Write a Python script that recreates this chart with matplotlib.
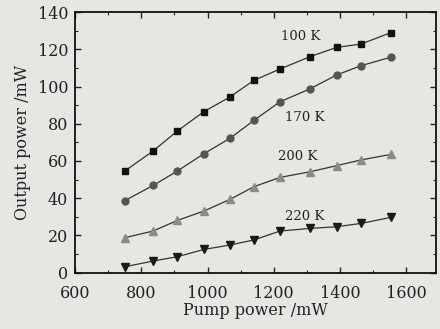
import matplotlib
matplotlib.use("Agg")
import matplotlib.pyplot as plt
from matplotlib.ticker import MultipleLocator

pump = [750, 836, 909, 989, 1068, 1140, 1219, 1309, 1390, 1464, 1553]
p100 = [54.6, 65.4, 76.1, 86.5, 94.4, 103.3, 109.4, 116.0, 121.0, 122.8, 128.9]
p170 = [38.7, 46.9, 54.6, 63.9, 72.2, 81.8, 91.8, 98.7, 106.2, 111.2, 115.7]
p200 = [18.8, 22.4, 28.1, 33.1, 39.4, 46.2, 51.2, 54.2, 57.5, 60.6, 63.5]
p220 = [3.2, 6.3, 8.6, 12.5, 14.9, 17.6, 22.4, 23.8, 24.7, 26.5, 29.7]
labels = ["100 K", "170 K", "200 K", "220 K"]
label_pos = [(1282, 126.6), (1294, 83.6), (1273, 62.6), (1294, 30.4)]

plt.rcParams['font.family'] = ['DejaVu Serif']
bg = '#e6e6e3'
fig = plt.figure(figsize=(4.4, 3.29), dpi=100, facecolor=bg)
ax = fig.add_axes([0.1705, 0.171, 0.8205, 0.7925], facecolor=bg)

series = [(p100, 's', '#111111', 4.6), (p170, 'o', '#555555', 5.0),
          (p200, '^', '#8a8a8a', 5.5), (p220, 'v', '#1a1a1a', 5.5)]
for vals, m, c, ms in series:
    ax.plot(pump, vals, marker=m, color='#333333', lw=0.9, ms=ms,
            markerfacecolor=c, markeredgecolor=c)

for t, (x, y) in zip(labels, label_pos):
    ax.text(x, y, t, ha='center', va='center', fontsize=9.5, color='#222222')

ax.set_xlim(600, 1690)
ax.set_ylim(0, 140)
ax.xaxis.set_major_locator(MultipleLocator(200))
ax.xaxis.set_minor_locator(MultipleLocator(100))
ax.yaxis.set_major_locator(MultipleLocator(20))
ax.yaxis.set_minor_locator(MultipleLocator(10))
ax.tick_params(which='both', top=True, right=True, direction='in', labelsize=11.5, colors='#222222')
ax.tick_params(which='major', length=4, width=1)
ax.tick_params(which='minor', length=2.5, width=0.8)
ax.tick_params(axis='x', which='major', pad=9)
ax.tick_params(axis='y', which='major', pad=5)
for s in ax.spines.values():
    s.set_linewidth(1.3)
    s.set_color('#111111')
ax.set_xlabel('Pump power /mW', fontsize=11.5, labelpad=0, color='#222222')
ax.set_ylabel('Output power /mW', fontsize=11.5, labelpad=5, color='#222222')
fig.savefig('out.png', dpi=100, facecolor=bg)
